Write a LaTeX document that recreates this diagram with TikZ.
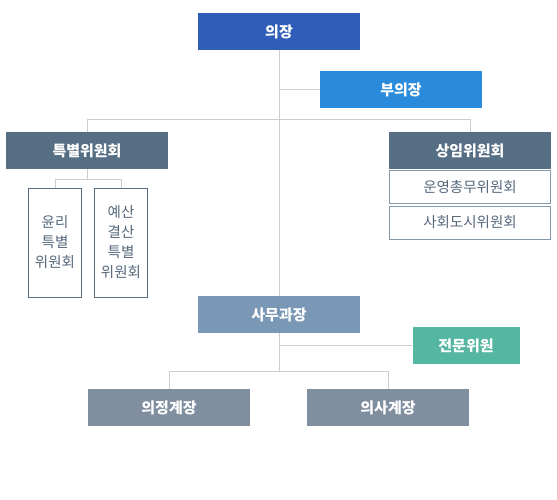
\documentclass[tikz,border=0pt]{standalone}
\usepackage{fontspec}
\setmainfont{Noto Sans CJK KR}
\definecolor{cChair}{HTML}{305DB7}
\definecolor{cVice}{HTML}{2A8BDC}
\definecolor{cSlate}{HTML}{566F84}
\definecolor{cClerk}{HTML}{7A98B5}
\definecolor{cExpert}{HTML}{55B6A1}
\definecolor{cSec}{HTML}{808F9F}
\definecolor{cLine}{HTML}{CDCDCD}
\definecolor{cOutA}{HTML}{8499AE}
\definecolor{cOutB}{HTML}{566F84}
\definecolor{cOutText}{HTML}{56687C}
\tikzset{
  fillbox/.style={rectangle, inner sep=0pt, text=white, minimum width=162pt, minimum height=37pt,
    font=\fontsize{15}{17}\selectfont\bfseries},
  outbox/.style={rectangle, inner sep=0pt, fill=white, line width=1pt, text=cOutText,
    font=\fontsize{14.5}{20}\selectfont, align=center},
  conn/.style={draw=cLine, line width=1pt}
}
\begin{document}
\begin{tikzpicture}[x=1pt,y=-1pt]
\useasboundingbox (0,0) rectangle (557,500);
% nodes
\node[fillbox, fill=cChair] (chair) at (279,31.5) {의장};
\node[fillbox, fill=cVice] (vice) at (401,89.5) {부의장};
\node[fillbox, fill=cSlate] (special) at (87,150.5) {특별위원회};
\node[fillbox, fill=cSlate] (standing) at (470,150.5) {상임위원회};
\node[outbox, draw=cOutA, minimum width=161pt, minimum height=33pt] (steer) at (470,187) {운영총무위원회};
\node[outbox, draw=cOutA, minimum width=161pt, minimum height=33pt] (social) at (470,222.5) {사회도시위원회};
\node[outbox, draw=cOutB, minimum width=53pt, minimum height=109pt] (ethics) at (55,242.5) {윤리\\특별\\위원회};
\node[outbox, draw=cOutB, minimum width=53pt, minimum height=109pt] (budget) at (121,242.5) {예산\\결산\\특별\\위원회};
\node[fillbox, fill=cClerk] (clerk) at (279,314.5) {사무과장};
\node[fillbox, fill=cExpert, minimum width=107pt] (expert) at (466,345.5) {전문위원};
\node[fillbox, fill=cSec] (sec1) at (169,407.5) {의정계장};
\node[fillbox, fill=cSec] (sec2) at (388,407.5) {의사계장};
% connectors
\draw[conn] (chair.south) -- (clerk.north);
\draw[conn] (vice.west) -- (vice.west -| chair.south);
\draw[conn] (special.north) -- ++(0,-12) -| (standing.north);
\draw[conn] (special.south) -- ++(0,10) coordinate (sj);
\draw[conn] (ethics.north) |- (sj) -| (budget.north);
\draw[conn] (clerk.south) -- ++(0,38) coordinate (cj);
\draw[conn] (expert.west) -- (expert.west -| clerk.south);
\draw[conn] (sec1.north) |- (cj) -| (sec2.north);
\end{tikzpicture}
\end{document}
